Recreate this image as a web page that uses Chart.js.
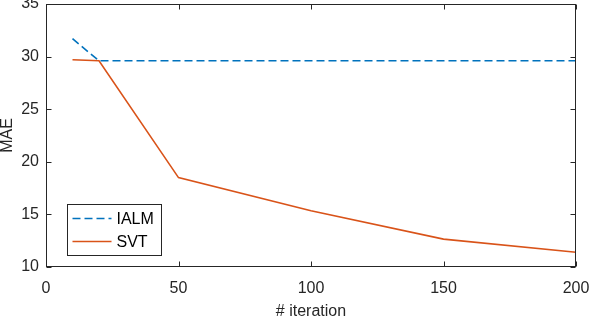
<!DOCTYPE html>
<html>
<head>
<meta charset="utf-8">
<script src="https://cdn.jsdelivr.net/npm/chart.js@4/dist/chart.umd.min.js"></script>
<style>
html,body{margin:0;padding:0;background:#fff;}
#wrap{width:590px;height:318px;position:relative;}
</style>
</head>
<body>
<div id="wrap"><canvas id="c" width="590" height="318"></canvas></div>
<script>
const iterations = [10, 20, 50, 100, 150, 200];
const ialmMAE = [31.7, 29.6, 29.6, 29.6, 29.6, 29.6];
const svtMAE = [29.7, 29.6, 18.5, 15.35, 12.65, 11.4];
const seriesNames = ['IALM', 'SVT'];
const xTicks = [0, 50, 100, 150, 200];
const yTicks = [10, 15, 20, 25, 30, 35];

const FONT = "'Liberation Sans', Arial, Helvetica, sans-serif";
const AXIS = '#262626';

const boxPlugin = {
  id: 'box',
  afterDatasetsDraw(chart) {
    const ctx = chart.ctx, a = chart.chartArea;
    const xs = chart.scales.x, ys = chart.scales.y;
    ctx.save();
    ctx.strokeStyle = AXIS;
    ctx.lineWidth = 1;
    const L = Math.round(a.left) + 0.5, R = Math.round(a.right) - 0.5;
    const T = Math.round(a.top) + 0.5, B = Math.round(a.bottom) - 0.5;
    ctx.strokeRect(L, T, R - L, B - T);
    const tl = 5;
    ctx.beginPath();
    xTicks.forEach(v => {
      const px = Math.round(xs.getPixelForValue(v)) + 0.5;
      ctx.moveTo(px, B); ctx.lineTo(px, B - tl);
      ctx.moveTo(px, T); ctx.lineTo(px, T + tl);
    });
    yTicks.forEach(v => {
      const py = Math.round(ys.getPixelForValue(v)) + 0.5;
      ctx.moveTo(L, py); ctx.lineTo(L + tl, py);
      ctx.moveTo(R, py); ctx.lineTo(R - tl, py);
    });
    ctx.stroke();

    // legend
    const lx = L + 21, ly = B - 62, lw = 94, lh = 51;
    ctx.fillStyle = '#fff';
    ctx.fillRect(lx, ly, lw, lh);
    ctx.strokeRect(lx, ly, lw, lh);
    chart.data.datasets.forEach((ds, i) => {
      const yy = ly + 14 + i * 23;
      ctx.save();
      ctx.strokeStyle = ds.borderColor;
      ctx.lineWidth = ds.borderWidth;
      ctx.setLineDash(ds.borderDash || []);
      ctx.beginPath();
      ctx.moveTo(lx + 5, yy); ctx.lineTo(lx + 44, yy);
      ctx.stroke();
      ctx.restore();
      ctx.fillStyle = '#000';
      ctx.font = '16px ' + FONT;
      ctx.textBaseline = 'middle';
      ctx.fillText(ds.label, lx + 49, yy + 1);
    });
    ctx.restore();
  }
};

new Chart(document.getElementById('c'), {
  type: 'line',
  data: {
    datasets: [
      {
        label: seriesNames[0],
        data: iterations.map((x, i) => ({x, y: ialmMAE[i]})),
        borderColor: '#0072BD',
        borderWidth: 1.6,
        borderDash: [8, 4],
        pointRadius: 0,
        tension: 0,
        fill: false
      },
      {
        label: seriesNames[1],
        data: iterations.map((x, i) => ({x, y: svtMAE[i]})),
        borderColor: '#D95319',
        borderWidth: 1.6,
        pointRadius: 0,
        tension: 0,
        fill: false
      }
    ]
  },
  options: {
    responsive: false,
    animation: false,
    layout: {padding: {top: 4, right: 14, left: 0, bottom: 0}},
    plugins: {legend: {display: false}, tooltip: {enabled: false}},
    scales: {
      x: {
        type: 'linear', min: 0, max: 200,
        afterBuildTicks(s) { s.ticks = xTicks.map(v => ({value: v})); },
        afterFit(s) { s.height = 51; s.paddingLeft = 0; s.paddingRight = 0; },
        grid: {display: false, drawTicks: false},
        border: {display: false},
        ticks: {color: AXIS, font: {family: FONT, size: 16}, padding: 12, maxRotation: 0},
        title: {display: true, text: '# iteration', color: AXIS, font: {family: FONT, size: 16, lineHeight: 1}, padding: {top: 0, bottom: -2}}
      },
      y: {
        type: 'linear', min: 10, max: 35,
        afterBuildTicks(s) { s.ticks = yTicks.map(v => ({value: v})); },
        afterFit(s) { s.width = 46; s.paddingTop = 0; s.paddingBottom = 0; },
        grid: {display: false, drawTicks: false},
        border: {display: false},
        ticks: {color: AXIS, font: {family: FONT, size: 16}, padding: 7},
        title: {display: true, text: 'MAE', color: AXIS, font: {family: FONT, size: 16, lineHeight: 1}, padding: {top: 0, bottom: 0}}
      }
    }
  },
  plugins: [boxPlugin]
});
</script>
</body>
</html>
